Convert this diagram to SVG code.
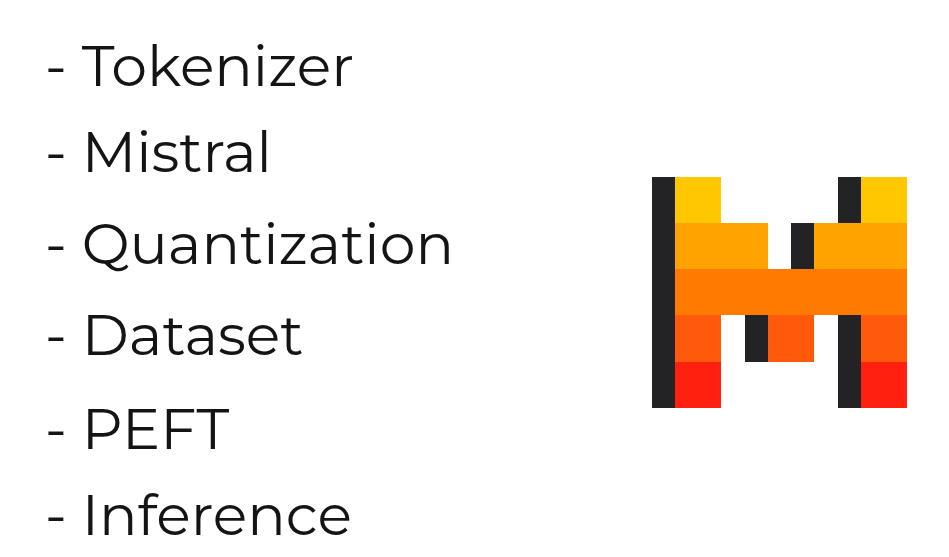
<svg xmlns="http://www.w3.org/2000/svg" width="949" height="557" viewBox="0 0 949 557">
<style>text{font-family:Montserrat,"Inter","Open Sans","Liberation Sans",sans-serif;font-size:57px;font-weight:400;fill:#141414}</style>
<rect width="949" height="557" fill="#fff"/>
<text x="45" y="86">- Tokenizer</text>
<text x="45" y="172">- Mistral</text>
<text x="45" y="263.5">- Quantization</text>
<text x="45" y="354.5">- Dataset</text>
<text x="45" y="449">- PEFT</text>
<text x="45" y="535">- Inference</text>
<g id="logo">
<rect x="652" y="177" width="23" height="231" fill="#232326"/>
<rect x="675" y="177" width="46" height="46" fill="#ffc700"/>
<rect x="675" y="223" width="93" height="46" fill="#ffa300"/>
<rect x="675" y="269" width="232" height="46" fill="#ff7a00"/>
<rect x="675" y="315" width="46" height="47" fill="#ff5a0a"/>
<rect x="675" y="362" width="46" height="46" fill="#ff2010"/>
<rect x="838" y="177" width="23" height="46" fill="#232326"/>
<rect x="861" y="177" width="46" height="46" fill="#ffc700"/>
<rect x="791" y="223" width="23" height="46" fill="#232326"/>
<rect x="814" y="223" width="93" height="46" fill="#ffa300"/>
<rect x="745" y="315" width="23" height="47" fill="#232326"/>
<rect x="768" y="315" width="46" height="47" fill="#ff5a0a"/>
<rect x="838" y="315" width="23" height="93" fill="#232326"/>
<rect x="861" y="315" width="46" height="47" fill="#ff5a0a"/>
<rect x="861" y="362" width="46" height="46" fill="#ff2010"/>
</g>
</svg>
